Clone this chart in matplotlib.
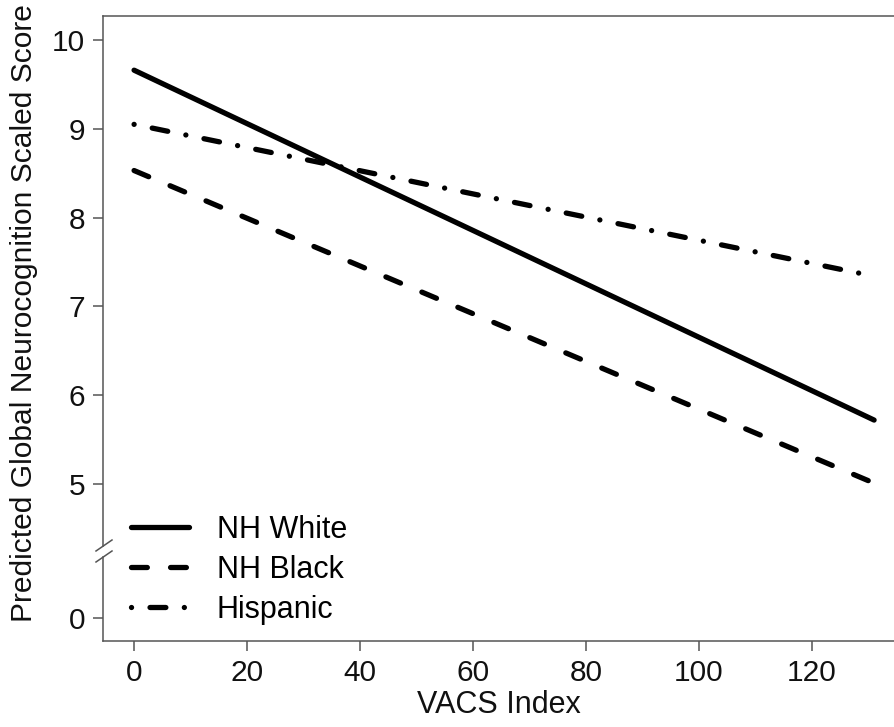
import matplotlib
matplotlib.use("Agg")
import matplotlib.pyplot as plt
from matplotlib.lines import Line2D

plt.rcParams['font.family'] = ['Liberation Sans', 'DejaVu Sans']

# Data
vacs = [0, 131]
nh_white = [9.66, 5.72]
nh_black = [8.53, 5.01]
hispanic = [9.05, 7.34]
series_labels = ["NH White", "NH Black", "Hispanic"]
x_ticks = [0, 20, 40, 60, 80, 100, 120]
y_ticks_top = [5, 6, 7, 8, 9, 10]
y_ticks_bottom = [0]

W, H = 895, 727
fig = plt.figure(figsize=(W / 100, H / 100), dpi=100)

left = 103 / W
right = 1.0
top_px, brk_top_px, brk_bot_px, bot_px = 16, 546, 557, 641
ax_top = fig.add_axes([left, 1 - brk_top_px / H, right - left, (brk_top_px - top_px) / H])
ax_bot = fig.add_axes([left, 1 - bot_px / H, right - left, (bot_px - brk_bot_px) / H], sharex=ax_top)

spine_col = '#555555'
lw = 3.8
ls_black = (0, (3.0, 4.4))
ls_hisp = (0, (0.01, 3.5, 3.0, 3.5))
ax_top.plot(vacs, nh_white, color='black', lw=lw, solid_capstyle='round', label=series_labels[0])
ax_top.plot(vacs, nh_black, color='black', lw=lw, linestyle=ls_black, dash_capstyle='round', label=series_labels[1])
ax_top.plot(vacs, hispanic, color='black', lw=lw, linestyle=ls_hisp, dash_capstyle='round', label=series_labels[2])

ppu = 88.8
ax_top.set_ylim(5 - (brk_top_px - 484) / ppu, 10 + (40 - top_px) / ppu)
ax_bot.set_ylim(-(bot_px - 618) / ppu, (618 - brk_bot_px) / ppu)
ax_top.set_xlim(-5.5, 134.7)

ax_top.set_yticks(y_ticks_top)
ax_bot.set_yticks(y_ticks_bottom)
ax_bot.set_xticks(x_ticks)

for ax in (ax_top, ax_bot):
    for s in ax.spines.values():
        s.set_color(spine_col)
        s.set_linewidth(1.1)
    ax.spines['right'].set_visible(False)
    ax.tick_params(axis='both', direction='out', length=7, width=1.1, color=spine_col,
                   labelsize=21.5, pad=6, labelcolor='#111111')

ax_top.spines['bottom'].set_visible(False)
ax_top.tick_params(axis='x', bottom=False, labelbottom=False)
ax_bot.spines['top'].set_visible(False)

ax_bot.set_xlabel("VACS Index", fontsize=22, color='#111111', labelpad=2)
fig.text(24 / W, 1 - 313 / H, "Predicted Global Neurocognition Scaled Score",
         rotation=90, ha='center', va='center', fontsize=21.6, color='#111111')

# break marks
for yb in (551, 562):
    fig.add_artist(Line2D([96 / W, 112 / W], [1 - yb / H, 1 - (yb - 11) / H],
                          color=spine_col, lw=1.1, transform=fig.transFigure))

handles, labels = ax_top.get_legend_handles_labels()
fig.legend(handles, labels, loc='upper left', bbox_to_anchor=(131 / W, 1 - 515 / H),
           frameon=False, fontsize=22, handlelength=1.9, handletextpad=0.9,
           labelspacing=0.32, borderpad=0, borderaxespad=0)

fig.savefig("out.png", dpi=100)
